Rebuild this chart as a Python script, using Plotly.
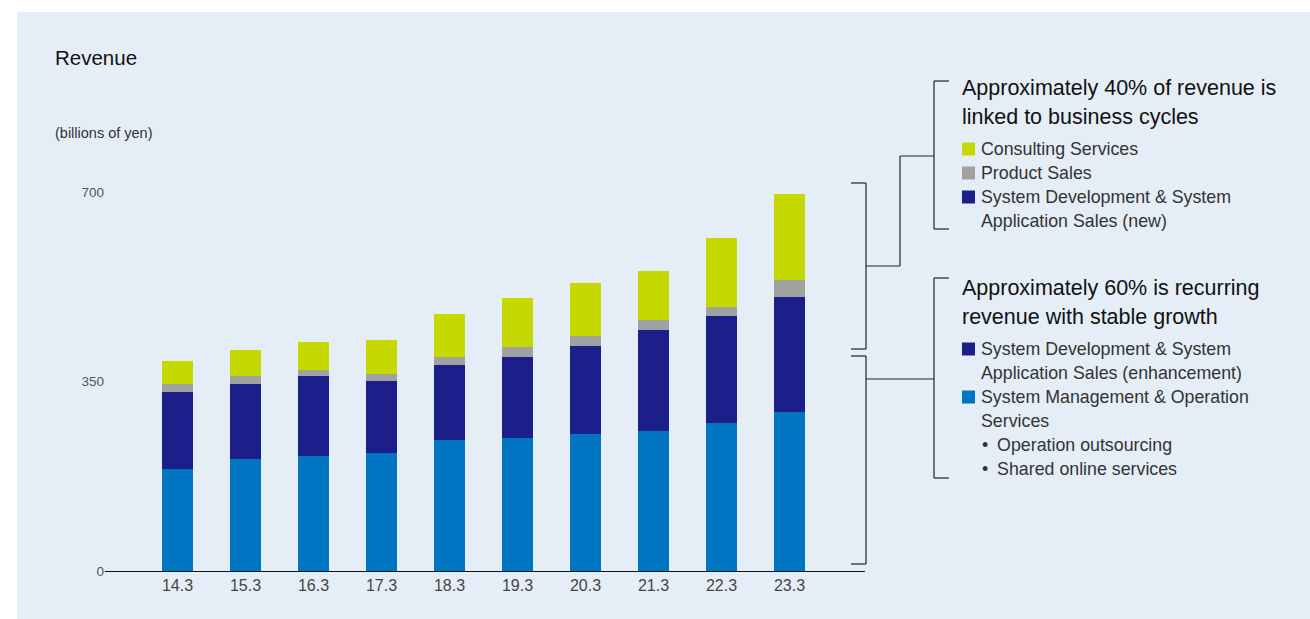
import plotly.graph_objects as go

years = ["14.3", "15.3", "16.3", "17.3", "18.3", "19.3", "20.3", "21.3", "22.3", "23.3"]
mgmt_ops = [188, 207, 212, 218, 242, 246, 253, 259, 273, 294]
dev_sales = [143, 139, 148, 133, 139, 150, 163, 187, 198, 212]
product_sales = [15, 15, 11, 13, 15, 17, 18, 17, 17, 31]
consulting = [42, 48, 52, 63, 79, 92, 98, 92, 127, 159]
y_ticks = [0, 350, 700]

C_BLUE = "#0075c2"
C_NAVY = "#1c1f8a"
C_GRAY = "#a0a2a2"
C_GREEN = "#c5d800"
BG = "#e5eef6"
FONT = "Liberation Sans, Arial, sans-serif"

W, H = 1310, 619
ML, MR, MT, MB = 105, 445, 150, 48
PW = W - ML - MR
PH = H - MT - MB


def X(px):
    return (px - ML) / PW


def Y(py):
    return (H - MB - py) / PH


fig = go.Figure()
for name, vals, col in [
    ("System Management & Operation Services", mgmt_ops, C_BLUE),
    ("System Development & System Application Sales", dev_sales, C_NAVY),
    ("Product Sales", product_sales, C_GRAY),
    ("Consulting Services", consulting, C_GREEN),
]:
    fig.add_trace(go.Bar(x=years, y=vals, name=name, marker=dict(color=col, line=dict(width=0)),
                         width=0.456, showlegend=False, hoverinfo="x+y+name"))

shapes = []
# background panel
shapes.append(dict(type="rect", xref="paper", yref="paper", x0=X(17), x1=X(1310), y0=Y(12), y1=Y(619),
                   fillcolor=BG, line=dict(width=0), layer="below"))


def line(x0, y0, x1, y1, w=1.2, c="#222"):
    shapes.append(dict(type="line", xref="paper", yref="paper", x0=X(x0), y0=Y(y0), x1=X(x1), y1=Y(y1),
                       line=dict(color=c, width=w)))


# upper big bracket
line(851, 183, 866, 183)
line(866, 183, 866, 349)
line(851, 349, 866, 349)
# lower big bracket
line(851, 356, 866, 356)
line(866, 356, 866, 564)
line(851, 564, 866, 564)
# connectors
line(866, 266, 900, 266)
line(900, 266, 900, 156)
line(900, 156, 934, 156)
line(866, 379, 934, 379)
# text brackets
line(949, 81, 934, 81)
line(934, 81, 934, 229)
line(934, 229, 949, 229)
line(949, 278, 934, 278)
line(934, 278, 934, 478)
line(934, 478, 949, 478)

annotations = []


def text(px, py, s, size, color="#222"):
    annotations.append(dict(xref="paper", yref="paper", x=X(px), y=Y(py), text=s, showarrow=False,
                            xanchor="left", yanchor="middle", font=dict(family=FONT, size=size, color=color)))


def square(px, py, col):
    shapes.append(dict(type="rect", xref="paper", yref="paper", x0=X(px), x1=X(px + 13),
                       y0=Y(py - 6.5), y1=Y(py + 6.5), fillcolor=col, line=dict(width=0)))


HS = 21.5
LS = 17.8
text(53, 58, "Revenue", 20.5, "#111")
text(53, 133, "(billions of yen)", 14.5, "#333")

text(960, 88, "Approximately 40% of revenue is", HS, "#111")
text(960, 117, "linked to business cycles", HS, "#111")
square(962, 149, C_GREEN)
text(979, 149, "Consulting Services", LS, "#333")
square(962, 173, C_GRAY)
text(979, 173, "Product Sales", LS, "#333")
square(962, 197, C_NAVY)
text(979, 197, "System Development &amp; System", LS, "#333")
text(979, 221, "Application Sales (new)", LS, "#333")

text(960, 288, "Approximately 60% is recurring", HS, "#111")
text(960, 317, "revenue with stable growth", HS, "#111")
square(962, 349, C_NAVY)
text(979, 349, "System Development &amp; System", LS, "#333")
text(979, 373, "Application Sales (enhancement)", LS, "#333")
square(962, 397, C_BLUE)
text(979, 397, "System Management &amp; Operation", LS, "#333")
text(979, 421, "Services", LS, "#333")
text(980, 445, "\u2022\u2002Operation outsourcing", LS, "#333")
text(980, 469, "\u2022\u2002Shared online services", LS, "#333")

fig.update_layout(
    width=W, height=H,
    margin=dict(l=ML, r=MR, t=MT, b=MB, pad=0),
    paper_bgcolor="white",
    plot_bgcolor="rgba(0,0,0,0)",
    barmode="stack",
    font=dict(family=FONT, color="#333"),
    shapes=shapes,
    annotations=annotations,
    xaxis=dict(type="category", range=[-1.066, 10.11], showgrid=False, zeroline=False,
               showline=True, linecolor="#111", linewidth=1.3, ticks="",
               tickfont=dict(size=16, color="#444", family=FONT)),
    yaxis=dict(range=[0, PH / 0.5414], tickvals=y_ticks, showgrid=False, zeroline=False,
               showline=False, ticks="", tickfont=dict(size=13.5, color="#555", family=FONT)),
)

fig.write_html("out.html")
